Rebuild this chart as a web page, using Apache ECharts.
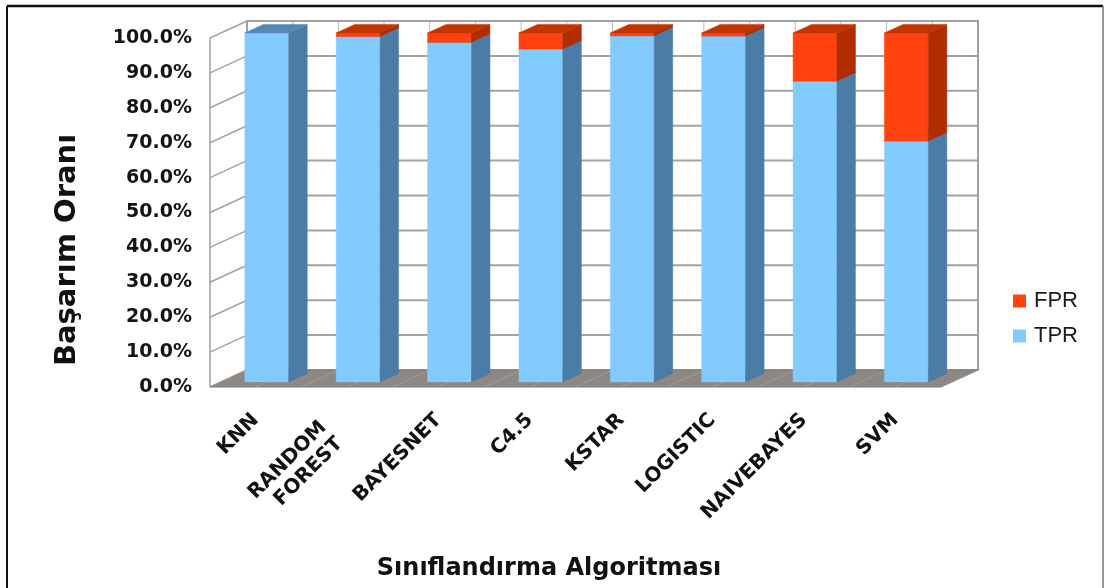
<!DOCTYPE html>
<html>
<head>
<meta charset="utf-8">
<script src="https://cdn.jsdelivr.net/npm/echarts@6/dist/echarts.min.js"></script>
<style>
  html, body { margin: 0; padding: 0; background: #ffffff; }
  #chart { width: 1105px; height: 588px; }
</style>
</head>
<body>
<div id="chart"></div>
<script>
// Classifier results: true-positive and false-positive rates (%)
const categories = ['KNN', 'RANDOM\nFOREST', 'BAYESNET', 'C4.5', 'KSTAR', 'LOGISTIC', 'NAIVEBAYES', 'SVM'];
const tprValues = [100.0, 99.0, 97.3, 95.4, 99.2, 99.1, 86.2, 69.0];
const fprValues = [0.0, 1.0, 2.7, 4.6, 0.8, 0.9, 13.8, 31.0];
const yTickValues = [0, 10, 20, 30, 40, 50, 60, 70, 80, 90, 100];
const yTickLabels = ['0.0%', '10.0%', '20.0%', '30.0%', '40.0%', '50.0%', '60.0%', '70.0%', '80.0%', '90.0%', '100.0%'];

// Pseudo-3D projection: full depth of the box, and where the bars sit in it
const DEPTH = [37, -17];
const BAR_FRONT = 0.30;
const BAR_BACK = 0.80;
const BAR_WIDTH = 0.48;

const TPR_COLORS = { front: '#83caff', side: '#4b7ca6', top: '#5587b3' };
const FPR_COLORS = { front: '#ff420e', side: '#b02d00', top: '#c23400' };

const chart = echarts.init(document.getElementById('chart'), null, { renderer: 'canvas' });

// One box-shaped bar segment between values lo and hi
function prism(api, idx, lo, hi, col) {
  if (!(hi > lo)) return null;
  const band = api.size([1, 0])[0];
  const p0 = api.coord([idx, lo]);
  const p1 = api.coord([idx, hi]);
  const half = band * BAR_WIDTH / 2;
  const fx = DEPTH[0] * BAR_FRONT, fy = DEPTH[1] * BAR_FRONT;
  const bx = DEPTH[0] * (BAR_BACK - BAR_FRONT), by = DEPTH[1] * (BAR_BACK - BAR_FRONT);
  const xl = p0[0] - half + fx, xr = p0[0] + half + fx;
  const yb = p0[1] + fy, yt = p1[1] + fy;
  return {
    type: 'group',
    children: [
      { type: 'rect', shape: { x: xl, y: yt, width: xr - xl, height: yb - yt },
        style: { fill: col.front, stroke: col.front, lineWidth: 0.5 } },
      { type: 'polygon', shape: { points: [[xr, yb], [xr + bx, yb + by], [xr + bx, yt + by], [xr, yt]] },
        style: { fill: col.side, stroke: col.side, lineWidth: 0.5 } },
      { type: 'polygon', shape: { points: [[xl, yt], [xr, yt], [xr + bx, yt + by], [xl + bx, yt + by]] },
        style: { fill: col.top, stroke: col.top, lineWidth: 0.5 } }
    ]
  };
}

// Walls, floor and grid of the box
function renderBox(params, api) {
  const cs = params.coordSys;
  const x0 = cs.x, x1 = cs.x + cs.width;
  const yTop = api.coord([0, 100])[1], yBot = api.coord([0, 0])[1];
  const dx = DEPTH[0], dy = DEPTH[1];
  const band = api.size([1, 0])[0];
  const gridColor = '#a3a3a3';
  const children = [];
  children.push({ type: 'rect', shape: { x: x0 + dx, y: yTop + dy, width: x1 - x0, height: yBot - yTop },
    style: { fill: '#ffffff', stroke: 'none' } });
  children.push({ type: 'polygon', shape: { points: [[x0, yTop], [x0 + dx, yTop + dy], [x0 + dx, yBot + dy], [x0, yBot]] },
    style: { fill: '#ffffff', stroke: 'none' } });
  // vertical lines on the back wall, every half category
  for (let k = 0; k <= categories.length * 2; k++) {
    const x = x0 + dx + k * band / 2;
    children.push({ type: 'line', shape: { x1: x, y1: yTop + dy, x2: x, y2: yBot + dy },
      style: { stroke: '#b8b8b8', lineWidth: 1 } });
  }
  // horizontal grid on back and left walls
  yTickValues.forEach(function (v) {
    const y = api.coord([0, v])[1];
    children.push({ type: 'line', shape: { x1: x0 + dx, y1: y + dy, x2: x1 + dx, y2: y + dy },
      style: { stroke: gridColor, lineWidth: 2 } });
    children.push({ type: 'line', shape: { x1: x0, y1: y, x2: x0 + dx, y2: y + dy },
      style: { stroke: gridColor, lineWidth: 1.5 } });
  });
  // wall outlines
  children.push({ type: 'rect', shape: { x: x0 + dx, y: yTop + dy, width: x1 - x0, height: yBot - yTop },
    style: { fill: 'none', stroke: '#a0a0a0', lineWidth: 2 } });
  children.push({ type: 'line', shape: { x1: x0, y1: yTop, x2: x0, y2: yBot },
    style: { stroke: '#a0a0a0', lineWidth: 1.5 } });
  // floor
  children.push({ type: 'polygon', shape: { points: [[x0, yBot], [x1, yBot], [x1 + dx, yBot + dy], [x0 + dx, yBot + dy]] },
    style: { fill: '#8d8884', stroke: '#7f7a76', lineWidth: 1 } });
  for (let k = 0; k <= categories.length * 2; k++) {
    const x = x0 + k * band / 2;
    children.push({ type: 'line', shape: { x1: x, y1: yBot, x2: x + dx, y2: yBot + dy },
      style: { stroke: '#a09b97', lineWidth: 1 } });
  }
  return { type: 'group', children: children };
}

// Two-line labels sit a little lower and further left than single-line ones
const xAxisData = categories.map(function (c) {
  return c.indexOf('\n') >= 0
    ? { value: c, textStyle: { padding: [71, 22, 0, 0] } }
    : c;
});

const option = {
  animation: false,
  backgroundColor: '#ffffff',
  grid: { left: 210, right: 164, top: 38, bottom: 201, containLabel: false },
  legend: {
    data: ['FPR', 'TPR'],
    orient: 'vertical',
    left: 1008,
    top: 285,
    itemWidth: 13,
    itemHeight: 13,
    itemGap: 13,
    icon: 'rect',
    textStyle: { fontFamily: 'Liberation Sans', fontSize: 22, color: '#1a1a1a', padding: [0, 0, 0, 3] }
  },
  xAxis: {
    type: 'category',
    data: xAxisData,
    axisLine: { show: false },
    axisTick: { show: false },
    splitLine: { show: false },
    axisLabel: {
      interval: 0,
      rotate: 45,
      margin: 30,
      padding: [20, 0, 0, 0],
      fontFamily: 'DejaVu Sans',
      fontWeight: 'bold',
      fontSize: 20,
      lineHeight: 23,
      color: '#111111'
    }
  },
  yAxis: {
    type: 'value',
    min: 0,
    max: 100,
    interval: 10,
    axisLine: { show: false },
    axisTick: { show: false },
    splitLine: { show: false },
    axisLabel: {
      margin: 18,
      fontFamily: 'DejaVu Sans',
      fontWeight: 'bold',
      fontSize: 19,
      color: '#141414',
      formatter: function (v) { return yTickLabels[yTickValues.indexOf(v)]; }
    }
  },
  graphic: [
    { type: 'line', shape: { x1: 7, y1: 6, x2: 1103, y2: 6 }, style: { stroke: '#111', lineWidth: 2.5 } },
    { type: 'line', shape: { x1: 7, y1: 6, x2: 7, y2: 600 }, style: { stroke: '#111', lineWidth: 2 } },
    { type: 'line', shape: { x1: 1103, y1: 6, x2: 1103, y2: 600 }, style: { stroke: '#777', lineWidth: 1.5 } },
    { type: 'text', x: 67, y: 250, rotation: Math.PI / 2,
      style: { text: 'Başarım Oranı', fontFamily: 'DejaVu Sans', fontWeight: 'bold', fontSize: 29,
        fill: '#111', align: 'center', verticalAlign: 'middle' } },
    { type: 'text', x: 549, y: 569,
      style: { text: 'Sınıflandırma Algoritması', fontFamily: 'DejaVu Sans', fontWeight: 'bold', fontSize: 24,
        fill: '#111', align: 'center', verticalAlign: 'middle' } }
  ],
  series: [
    {
      type: 'custom',
      name: 'box',
      silent: true,
      z: 1,
      data: [[0, 0]],
      renderItem: renderBox
    },
    {
      type: 'custom',
      name: 'TPR',
      z: 2,
      itemStyle: { color: TPR_COLORS.front },
      data: categories.map(function (c, i) { return [i, 0, tprValues[i]]; }),
      encode: { x: 0, y: 2 },
      renderItem: function (params, api) {
        return prism(api, api.value(0), api.value(1), api.value(2), TPR_COLORS);
      }
    },
    {
      type: 'custom',
      name: 'FPR',
      z: 3,
      itemStyle: { color: FPR_COLORS.front },
      data: categories.map(function (c, i) { return [i, tprValues[i], tprValues[i] + fprValues[i]]; }),
      encode: { x: 0, y: 2 },
      renderItem: function (params, api) {
        return prism(api, api.value(0), api.value(1), api.value(2), FPR_COLORS);
      }
    }
  ]
};

chart.setOption(option);
</script>
</body>
</html>
